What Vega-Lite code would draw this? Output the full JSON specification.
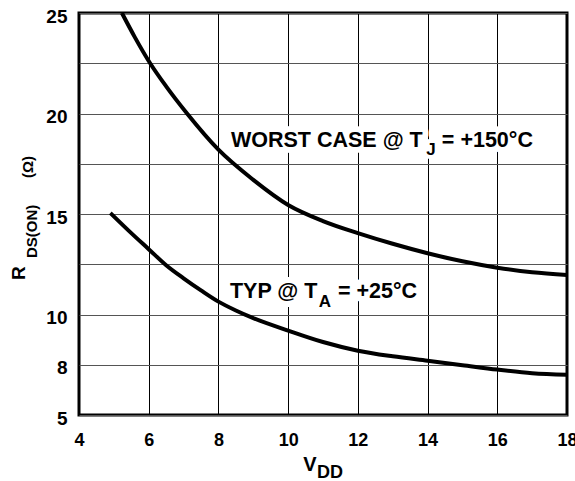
{
  "$schema": "https://vega.github.io/schema/vega-lite/v6.json",
  "width": 488,
  "height": 402,
  "autosize": {"type": "none"},
  "padding": {"left": 79, "top": 13, "right": 8, "bottom": 66},
  "background": "white",
  "config": {
    "view": {"stroke": "black", "strokeWidth": 3},
    "font": "Liberation Sans"
  },
  "datasets": {
    "curves": [
      {"series": "worst", "V": 5.23, "R": 25.0},
      {"series": "worst", "V": 5.6, "R": 23.8},
      {"series": "worst", "V": 6.04, "R": 22.5},
      {"series": "worst", "V": 6.5, "R": 21.35},
      {"series": "worst", "V": 7.1, "R": 20.0},
      {"series": "worst", "V": 8.0, "R": 18.2},
      {"series": "worst", "V": 9.0, "R": 16.7},
      {"series": "worst", "V": 10.0, "R": 15.45},
      {"series": "worst", "V": 11.0, "R": 14.65},
      {"series": "worst", "V": 12.0, "R": 14.05},
      {"series": "worst", "V": 13.0, "R": 13.52},
      {"series": "worst", "V": 14.0, "R": 13.05},
      {"series": "worst", "V": 15.0, "R": 12.65},
      {"series": "worst", "V": 16.0, "R": 12.33},
      {"series": "worst", "V": 17.0, "R": 12.1},
      {"series": "worst", "V": 18.0, "R": 11.97},
      {"series": "typ", "V": 4.9, "R": 15.05},
      {"series": "typ", "V": 5.5, "R": 14.05},
      {"series": "typ", "V": 6.0, "R": 13.25},
      {"series": "typ", "V": 6.5, "R": 12.45},
      {"series": "typ", "V": 7.0, "R": 11.8},
      {"series": "typ", "V": 7.5, "R": 11.2},
      {"series": "typ", "V": 8.0, "R": 10.64},
      {"series": "typ", "V": 8.5, "R": 10.2},
      {"series": "typ", "V": 9.0, "R": 9.82},
      {"series": "typ", "V": 10.0, "R": 9.2},
      {"series": "typ", "V": 11.0, "R": 8.63},
      {"series": "typ", "V": 12.0, "R": 8.2},
      {"series": "typ", "V": 13.0, "R": 7.92},
      {"series": "typ", "V": 14.0, "R": 7.7},
      {"series": "typ", "V": 15.0, "R": 7.48},
      {"series": "typ", "V": 16.0, "R": 7.26},
      {"series": "typ", "V": 17.0, "R": 7.08},
      {"series": "typ", "V": 18.0, "R": 7.0}
    ],
    "notes": [
      {"kind": "main", "V": 8.36, "R": 18.33, "text": "WORST CASE @ T"},
      {"kind": "sub", "V": 13.96, "R": 17.93, "text": "J"},
      {"kind": "main", "V": 14.41, "R": 18.33, "text": "= +150°C"},
      {"kind": "main", "V": 8.33, "R": 10.82, "text": "TYP @ T"},
      {"kind": "sub", "V": 10.88, "R": 10.37, "text": "A"},
      {"kind": "main", "V": 11.43, "R": 10.82, "text": "= +25°C"}
    ],
    "titles": [
      {"kind": "R", "V": 2.45, "R": 11.72, "text": "R"},
      {"kind": "Rsub", "V": 2.8, "R": 12.81, "text": "DS(ON)"},
      {"kind": "Rom", "V": 2.68, "R": 16.79, "text": "(Ω)"},
      {"kind": "V", "V": 10.43, "R": 2.2, "text": "V"},
      {"kind": "Vsub", "V": 10.83, "R": 1.86, "text": "DD"}
    ]
  },
  "encoding": {
    "x": {
      "field": "V", "type": "quantitative",
      "scale": {"domain": [4, 18], "nice": false, "zero": false},
      "axis": {
        "values": [4, 6, 8, 10, 12, 14, 16, 18],
        "grid": true, "gridColor": "black", "gridWidth": 1, "gridOpacity": 1,
        "domain": false, "ticks": false, "tickSize": 0,
        "labelFont": "Liberation Sans", "labelFontWeight": "bold", "labelFontSize": 18,
        "labelColor": "black", "labelPadding": 16, "labelFlush": false,
        "title": null
      }
    },
    "y": {
      "field": "R", "type": "quantitative",
      "scale": {"domain": [5, 25], "nice": false, "zero": false},
      "axis": {
        "values": [5, 7.5, 10, 12.5, 15, 17.5, 20, 22.5, 25],
        "labelExpr": "datum.value == 7.5 ? '8' : (datum.value % 5 == 0 ? datum.label : '')",
        "grid": true, "gridColor": "#555555", "gridWidth": 1, "gridOpacity": 1,
        "domain": false, "ticks": false, "tickSize": 0,
        "labelFont": "Liberation Sans", "labelFontWeight": "bold", "labelFontSize": 19,
        "labelColor": "black", "labelPadding": 12, "labelOffset": 3, "labelFlush": false,
        "title": null
      }
    }
  },
  "layer": [
    {
      "data": {"name": "notes"},
      "transform": [{"filter": "datum.kind == 'main'"}],
      "mark": {"type": "text", "align": "left", "baseline": "alphabetic", "font": "Liberation Sans", "fontWeight": "bold", "fontSize": 21.5, "fill": "white", "stroke": "white", "strokeWidth": 12, "strokeJoin": "round"},
      "encoding": {"text": {"field": "text"}}
    },
    {
      "data": {"name": "notes"},
      "transform": [{"filter": "datum.kind == 'sub'"}],
      "mark": {"type": "text", "align": "left", "baseline": "alphabetic", "font": "Liberation Sans", "fontWeight": "bold", "fontSize": 17, "fill": "white", "stroke": "white", "strokeWidth": 8, "strokeJoin": "round"},
      "encoding": {"text": {"field": "text"}}
    },
    {
      "data": {"name": "curves"},
      "mark": {"type": "line", "interpolate": "monotone", "color": "black", "strokeWidth": 4, "strokeCap": "butt"},
      "encoding": {"detail": {"field": "series"}}
    },
    {
      "data": {"name": "notes"},
      "transform": [{"filter": "datum.kind == 'main'"}],
      "mark": {"type": "text", "align": "left", "baseline": "alphabetic", "font": "Liberation Sans", "fontWeight": "bold", "fontSize": 21.5, "color": "black"},
      "encoding": {"text": {"field": "text"}}
    },
    {
      "data": {"name": "notes"},
      "transform": [{"filter": "datum.kind == 'sub'"}],
      "mark": {"type": "text", "align": "left", "baseline": "alphabetic", "font": "Liberation Sans", "fontWeight": "bold", "fontSize": 17, "color": "black"},
      "encoding": {"text": {"field": "text"}}
    },
    {
      "data": {"name": "titles"},
      "transform": [{"filter": "datum.kind == 'R'"}],
      "mark": {"type": "text", "align": "left", "baseline": "alphabetic", "font": "Liberation Sans", "fontWeight": "bold", "fontSize": 19, "color": "black"},
      "encoding": {"text": {"field": "text"}, "angle": {"value": 270}}
    },
    {
      "data": {"name": "titles"},
      "transform": [{"filter": "datum.kind == 'Rsub' || datum.kind == 'Rom'"}],
      "mark": {"type": "text", "align": "left", "baseline": "alphabetic", "font": "Liberation Sans", "fontWeight": "bold", "fontSize": 15, "color": "black"},
      "encoding": {"text": {"field": "text"}, "angle": {"value": 270}}
    },
    {
      "data": {"name": "titles"},
      "transform": [{"filter": "datum.kind == 'V'"}],
      "mark": {"type": "text", "align": "left", "baseline": "alphabetic", "font": "Liberation Sans", "fontWeight": "bold", "fontSize": 20, "color": "black"},
      "encoding": {"text": {"field": "text"}}
    },
    {
      "data": {"name": "titles"},
      "transform": [{"filter": "datum.kind == 'Vsub'"}],
      "mark": {"type": "text", "align": "left", "baseline": "alphabetic", "font": "Liberation Sans", "fontWeight": "bold", "fontSize": 18, "color": "black"},
      "encoding": {"text": {"field": "text"}}
    }
  ]
}
